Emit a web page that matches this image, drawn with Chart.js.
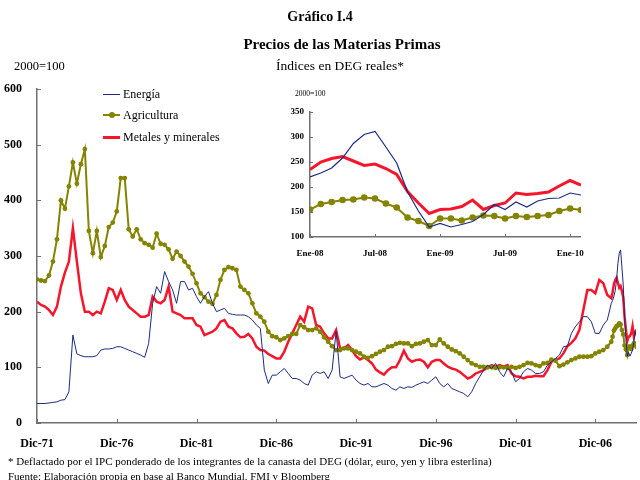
<!DOCTYPE html>
<html>
<head>
<meta charset="utf-8">
<script src="https://cdn.jsdelivr.net/npm/chart.js@4.4.1/dist/chart.umd.min.js"></script>
<style>
  body { margin: 0; background: #fff; }
  #wrap { position: relative; width: 640px; height: 480px; overflow: hidden; font-family: 'Liberation Serif', serif; color: #000; }
  .txt { position: absolute; white-space: nowrap; }
  .c { text-align: center; width: 400px; }
  #main { position: absolute; left: 0; top: 0; }
  #inset { position: absolute; left: 260px; top: 95px; }
  .leg { position: absolute; left: 103px; font-size: 12px; line-height: 14px; white-space: nowrap; }
  .leg i { position: absolute; left: 0; width: 17px; }
  .leg b { position: absolute; left: 6px; top: 4px; width: 6px; height: 6px; border-radius: 3px; background: #848400; }
  .leg span { position: absolute; left: 20px; top: 0; }
</style>
</head>
<body>
<div id="wrap">
  <canvas id="main" width="640" height="480"></canvas>
  <canvas id="inset" width="335" height="170"></canvas>

  <div class="txt c" style="left:120px; top:9px; font-size:14px; line-height:16px; font-weight:bold;">Gráfico I.4</div>
  <div class="txt c" style="left:142px; top:36px; font-size:15px; line-height:17px; font-weight:bold;">Precios de las Materias Primas</div>
  <div class="txt c" style="left:140px; top:58px; font-size:13.5px; line-height:16px;">Índices en DEG reales*</div>
  <div class="txt" style="left:14px; top:58px; font-size:12.5px; line-height:16px;">2000=100</div>
  <div class="txt" style="left:295px; top:89px; font-size:7.5px; line-height:9px;">2000=100</div>

  <div class="leg" style="top:87px;"><i style="top:7px; height:1px; background:#1c2a80;"></i><span>Energía</span></div>
  <div class="leg" style="top:108px;"><i style="top:6px; height:2px; background:#848400;"></i><b></b><span>Agricultura</span></div>
  <div class="leg" style="top:130px;"><i style="top:6px; height:3px; background:#f5162b;"></i><span>Metales y minerales</span></div>

  <div class="txt" style="left:8px; top:454px; font-size:11px; line-height:14px;">* Deflactado por el IPC ponderado de los integrantes de la canasta del DEG (dólar, euro, yen y libra esterlina)</div>
  <div class="txt" style="left:8px; top:469px; font-size:11px; line-height:14px;">Fuente: Elaboración propia en base al Banco Mundial, FMI y Bloomberg</div>
</div>

<script>
// trimestral: Dic-71, Mar-72, Jun-72 ... Dic-07
const energiaTrim = [
  35, 35, 35, 36, 37, 38, 41, 42, 56, 158, 124, 121, 119, 119, 119, 121, 131, 133, 133, 134,
  137, 137, 134, 131, 128, 125, 122, 118, 143, 215, 245, 233, 272, 254, 239, 215, 254, 254,
  239, 242, 227, 215, 227, 236, 215, 200, 203, 206, 197, 195, 194, 194, 194, 191, 185, 176, 170, 95,
  71, 86, 86, 92, 98, 89, 80, 80, 77, 71, 68, 86, 92, 89, 92, 80, 95,
  165, 83, 80, 83, 86, 77, 71, 68, 71, 65, 65, 68, 71, 68, 62, 59, 65, 62, 65, 64,
  68, 71, 74, 71, 77, 83, 71, 65, 71, 62, 59, 56, 53, 47, 56, 71, 83, 95,
  104, 98, 107, 92, 83, 98, 92, 74, 80, 92, 98, 95, 89, 89, 92, 104, 110, 116, 122, 137,
  138, 161, 173, 182, 191, 191, 182, 161, 161, 176, 185, 215
];
const agriculturaTrim = [
  258, 256, 255, 265, 290, 330, 400, 385, 425, 468, 430, 465, 492, 345, 305, 345, 298, 318, 352, 360,
  380, 440, 440, 348, 335, 348, 330, 323, 320, 315, 340, 322, 320, 312, 295, 308, 300, 290,
  281, 268, 251, 233, 226, 218, 214, 230, 257, 275, 280, 278, 275, 245, 239, 233, 215, 197, 191, 182,
  164, 156, 154, 149, 152, 156, 160, 160, 176, 172, 167, 167, 170, 164, 154, 146, 138,
  131, 131, 134, 134, 131, 128, 125, 119, 117, 120, 124, 128, 131, 137, 138, 142, 144, 143, 143, 138,
  142, 143, 146, 149, 140, 140, 150, 143, 137, 132, 129, 125, 119, 113, 107, 104, 101, 101,
  100, 100, 99, 100, 100, 99, 101, 99, 101, 104, 108, 107, 104, 102, 107, 108, 114, 112, 102, 105,
  109, 113, 116, 119, 119, 119, 120, 125, 128, 131, 137, 146
];
const metalesTrim = [
  218, 212, 209, 203, 194, 209, 245, 270, 290, 350, 290, 233, 200, 200, 194, 200, 197, 218, 242, 239,
  221, 239, 221, 209, 203, 197, 191, 191, 194, 227, 218, 215, 221, 245, 200, 197, 194, 188,
  188, 188, 176, 173, 158, 161, 164, 170, 182, 185, 173, 170, 161, 154, 155, 160, 152, 137, 131, 130,
  124, 120, 116, 116, 128, 146, 161, 176, 191, 182, 209, 206, 176, 173, 161, 152, 152,
  167, 134, 134, 140, 131, 120, 114, 118, 113, 107, 96, 91, 87, 95, 100, 100, 113, 130, 116, 110,
  113, 114, 110, 100, 110, 113, 113, 107, 101, 98, 96, 92, 86, 80, 83, 89, 92, 95,
  100, 104, 101, 104, 101, 104, 89, 84, 83, 80, 83, 83, 85, 84, 84, 95, 110, 114, 116, 125,
  138, 144, 152, 167, 203, 239, 239, 233, 257, 251, 230, 224
];

// mensual: Ene-08 ... Feb-10
const energiaMes = [220, 228, 238, 258, 287, 305, 311, 280, 248, 190, 152, 120, 127, 120, 125, 131, 145, 165, 155, 170, 160, 172, 177, 178, 188, 184];
const agriculturaMes = [155, 166, 170, 174, 175, 179, 177, 167, 159, 139, 132, 122, 137, 137, 133, 139, 143, 142, 137, 142, 140, 142, 144, 152, 157, 154];
const metalesMes = [235, 250, 257, 261, 252, 243, 246, 237, 225, 191, 168, 147, 155, 156, 161, 174, 155, 163, 168, 188, 185, 187, 190, 202, 213, 204];

const mainTickLabels = ['Dic-71', 'Dic-76', 'Dic-81', 'Dic-86', 'Dic-91', 'Dic-96', 'Dic-01', 'Dic-06'];
const mainTickMonths = [0, 60, 120, 180, 240, 300, 360, 420];
const insetTickLabels = ['Ene-08', 'Jul-08', 'Ene-09', 'Jul-09', 'Ene-10'];
const insetTickMonths = [0, 6, 12, 18, 24];

const AZUL = '#1c2a80', OLIVA = '#848400', ROJO = '#f5162b', EJE = '#707070';

// meses desde Dic-71
const mainSeries = (trim, mes) => trim.map((v, i) => ({ x: i * 3, y: v })).concat(mes.map((v, i) => ({ x: 433 + i, y: v })));
const insetSeries = mes => mes.map((v, i) => ({ x: i, y: v }));

// marcas de eje hacia adentro
const innerTicks = {
    id: 'innerTicks',
    afterDraw(chart, args, opts) {
        const ctx = chart.ctx;
        const xs = chart.scales.x, ys = chart.scales.y;
        ctx.save();
        ctx.strokeStyle = EJE;
        ctx.lineWidth = 1;
        xs.ticks.forEach(t => {
            const px = Math.round(xs.getPixelForValue(t.value)) + 0.5;
            ctx.beginPath();
            ctx.moveTo(px, xs.top);
            ctx.lineTo(px, xs.top - opts.len);
            ctx.stroke();
        });
        ys.ticks.forEach(t => {
            const py = Math.round(ys.getPixelForValue(t.value)) + 0.5;
            ctx.beginPath();
            ctx.moveTo(ys.right, py);
            ctx.lineTo(ys.right + opts.len, py);
            ctx.stroke();
        });
        ctx.restore();
    }
};

Chart.defaults.font.family = "'Liberation Serif', serif";
Chart.defaults.color = '#000';

const noGrid = { display: false, drawTicks: false };

new Chart(document.getElementById('main').getContext('2d'), {
    type: 'line',
    data: {
        datasets: [{
            label: 'Energía',
            data: mainSeries(energiaTrim, energiaMes),
            borderColor: AZUL,
            borderWidth: 1,
            pointRadius: 0,
            tension: 0
        }, {
            label: 'Agricultura',
            data: mainSeries(agriculturaTrim, agriculturaMes),
            borderColor: OLIVA,
            backgroundColor: OLIVA,
            borderWidth: 2,
            pointRadius: 2.4,
            pointBorderWidth: 0,
            tension: 0
        }, {
            label: 'Metales y minerales',
            data: mainSeries(metalesTrim, metalesMes),
            borderColor: ROJO,
            borderWidth: 2.5,
            pointRadius: 0,
            tension: 0
        }]
    },
    options: {
        responsive: false,
        animation: false,
        layout: { padding: { top: 89, right: 0, bottom: 0, left: 0 } },
        plugins: { legend: { display: false }, tooltip: { enabled: false }, innerTicks: { len: 4 } },
        scales: {
            x: {
                type: 'linear',
                min: 0,
                max: 450.6,
                afterFit: s => { s.height = 57; },
                afterBuildTicks: s => { s.ticks = mainTickMonths.map(v => ({ value: v })); },
                grid: noGrid,
                border: { display: true, color: EJE, width: 1.5 },
                ticks: {
                    autoSkip: false,
                    maxRotation: 0,
                    padding: 14,
                    font: { size: 12, weight: 'bold' },
                    callback: (v, i) => mainTickLabels[i]
                }
            },
            y: {
                min: 0,
                max: 600,
                afterFit: s => { s.width = 37; },
                grid: noGrid,
                border: { display: true, color: EJE, width: 1.5 },
                ticks: { stepSize: 100, padding: 15, font: { size: 12, weight: 'bold' } }
            }
        }
    },
    plugins: [innerTicks]
});

new Chart(document.getElementById('inset').getContext('2d'), {
    type: 'line',
    data: {
        datasets: [{
            label: 'Energía',
            data: insetSeries(energiaMes),
            borderColor: AZUL,
            borderWidth: 1.2,
            pointRadius: 0,
            tension: 0
        }, {
            label: 'Agricultura',
            data: insetSeries(agriculturaMes),
            borderColor: OLIVA,
            backgroundColor: OLIVA,
            borderWidth: 2,
            pointRadius: 3.3,
            pointBorderWidth: 0,
            tension: 0
        }, {
            label: 'Metales y minerales',
            data: insetSeries(metalesMes),
            borderColor: ROJO,
            borderWidth: 3,
            pointRadius: 0,
            tension: 0
        }]
    },
    options: {
        responsive: false,
        animation: false,
        layout: { padding: { top: 17, right: 9, bottom: 0, left: 0 } },
        plugins: { legend: { display: false }, tooltip: { enabled: false }, innerTicks: { len: 3 } },
        scales: {
            x: {
                type: 'linear',
                min: 0,
                max: 25,
                afterFit: s => { s.height = 28; },
                afterBuildTicks: s => { s.ticks = insetTickMonths.map(v => ({ value: v })); },
                grid: noGrid,
                border: { display: true, color: EJE, width: 1.5 },
                ticks: {
                    autoSkip: false,
                    maxRotation: 0,
                    padding: 11,
                    font: { size: 9, weight: 'bold' },
                    callback: (v, i) => insetTickLabels[i]
                }
            },
            y: {
                min: 100,
                max: 350,
                afterFit: s => { s.width = 50; },
                grid: noGrid,
                border: { display: true, color: EJE, width: 1.5 },
                ticks: { stepSize: 50, padding: 6, font: { size: 9, weight: 'bold' } }
            }
        }
    },
    plugins: [innerTicks]
});
</script>
</body>
</html>
